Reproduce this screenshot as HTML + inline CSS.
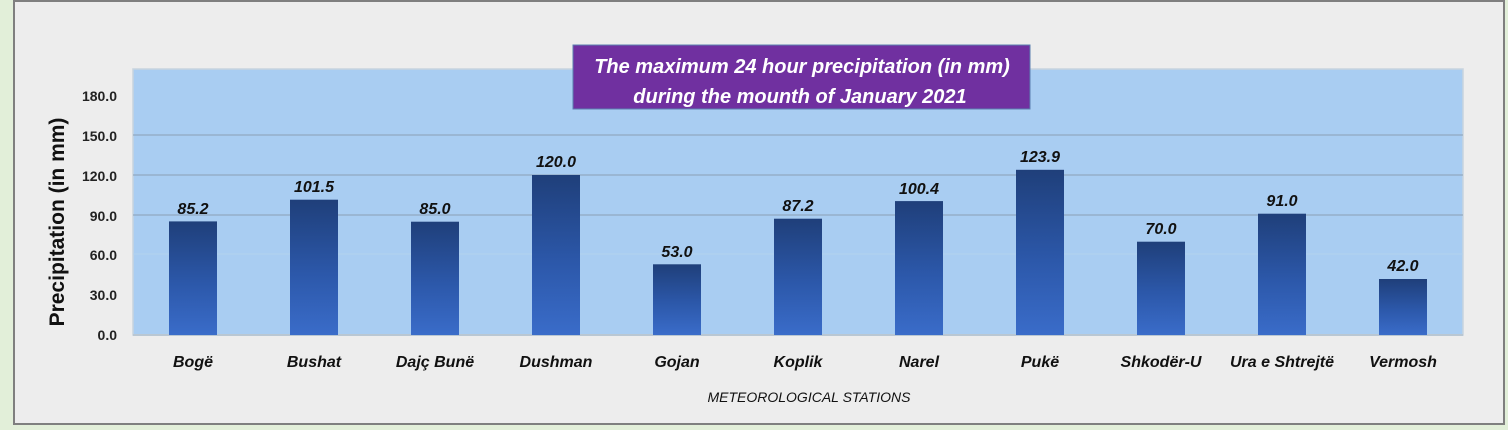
<!DOCTYPE html>
<html><head><meta charset="utf-8"><style>
html,body{margin:0;padding:0;background:#e2efd9;}
svg{display:block;}
text{font-family:"Liberation Sans",sans-serif;}
</style></head><body>
<svg width="1508" height="430" viewBox="0 0 1508 430" xmlns="http://www.w3.org/2000/svg">
<defs>
<linearGradient id="bar" x1="0" y1="0" x2="0" y2="1">
<stop offset="0" stop-color="#1f3f7a"/>
<stop offset="0.55" stop-color="#2c58aa"/>
<stop offset="1" stop-color="#3a6cc9"/>
</linearGradient>
</defs>
<rect x="0" y="0" width="1508" height="430" fill="#e2efd9"/>
<rect x="14" y="1" width="1490" height="423" fill="#ededed" stroke="#7f7f7f" stroke-width="2"/>
<rect x="133" y="69" width="1330" height="266" fill="#a9cdf2" stroke="#c8d4de" stroke-width="1.5"/>
<g stroke="#8aa0b4" stroke-width="1">
<line x1="133" y1="135" x2="1463" y2="135"/>
<line x1="133" y1="175" x2="1463" y2="175"/>
<line x1="133" y1="215" x2="1463" y2="215"/>
<line x1="133" y1="254" x2="1463" y2="254" stroke="#b4d2ef"/>
<line x1="133" y1="335" x2="1463" y2="335" stroke="#b9c7d3" stroke-width="2"/>
</g>
<g font-size="14" font-weight="bold" fill="#222" text-anchor="end">
<text x="117" y="101">180.0</text>
<text x="117" y="141">150.0</text>
<text x="117" y="181">120.0</text>
<text x="117" y="221">90.0</text>
<text x="117" y="260">60.0</text>
<text x="117" y="300">30.0</text>
<text x="117" y="340">0.0</text>
</g>
<text transform="translate(64,222) rotate(-90)" font-size="21" font-weight="bold" fill="#111" text-anchor="middle">Precipitation (in mm)</text>
<g font-size="16" font-weight="bold" font-style="italic" fill="#111" text-anchor="middle">
<rect x="169" y="221.4" width="48" height="113.6" fill="url(#bar)"/><text x="193" y="214">85.2</text><text x="193" y="367" font-size="16">Bogë</text>
<rect x="290" y="199.7" width="48" height="135.3" fill="url(#bar)"/><text x="314" y="192">101.5</text><text x="314" y="367" font-size="16">Bushat</text>
<rect x="411" y="221.7" width="48" height="113.3" fill="url(#bar)"/><text x="435" y="214">85.0</text><text x="435" y="367" font-size="16">Dajç Bunë</text>
<rect x="532" y="175" width="48" height="160" fill="url(#bar)"/><text x="556" y="167">120.0</text><text x="556" y="367" font-size="16">Dushman</text>
<rect x="653" y="264.3" width="48" height="70.7" fill="url(#bar)"/><text x="677" y="257">53.0</text><text x="677" y="367" font-size="16">Gojan</text>
<rect x="774" y="218.7" width="48" height="116.3" fill="url(#bar)"/><text x="798" y="211">87.2</text><text x="798" y="367" font-size="16">Koplik</text>
<rect x="895" y="201.1" width="48" height="133.9" fill="url(#bar)"/><text x="919" y="194">100.4</text><text x="919" y="367" font-size="16">Narel</text>
<rect x="1016" y="169.8" width="48" height="165.2" fill="url(#bar)"/><text x="1040" y="162">123.9</text><text x="1040" y="367" font-size="16">Pukë</text>
<rect x="1137" y="241.7" width="48" height="93.3" fill="url(#bar)"/><text x="1161" y="234">70.0</text><text x="1161" y="367" font-size="16">Shkodër-U</text>
<rect x="1258" y="213.7" width="48" height="121.3" fill="url(#bar)"/><text x="1282" y="206">91.0</text><text x="1282" y="367" font-size="16">Ura e Shtrejtë</text>
<rect x="1379" y="279" width="48" height="56" fill="url(#bar)"/><text x="1403" y="271">42.0</text><text x="1403" y="367" font-size="16">Vermosh</text>
</g>
<text x="809" y="402" font-size="14" font-style="italic" fill="#111" text-anchor="middle">METEOROLOGICAL STATIONS</text>
<rect x="573" y="45" width="457" height="64" fill="#7030a0" stroke="#5a7fb0" stroke-width="1"/>
<g font-size="20" font-weight="bold" font-style="italic" fill="#fff" text-anchor="middle">
<text x="802" y="73">The maximum 24 hour precipitation (in mm)</text>
<text x="800" y="103">during the mounth of January 2021</text>
</g>
</svg>
</body></html>
